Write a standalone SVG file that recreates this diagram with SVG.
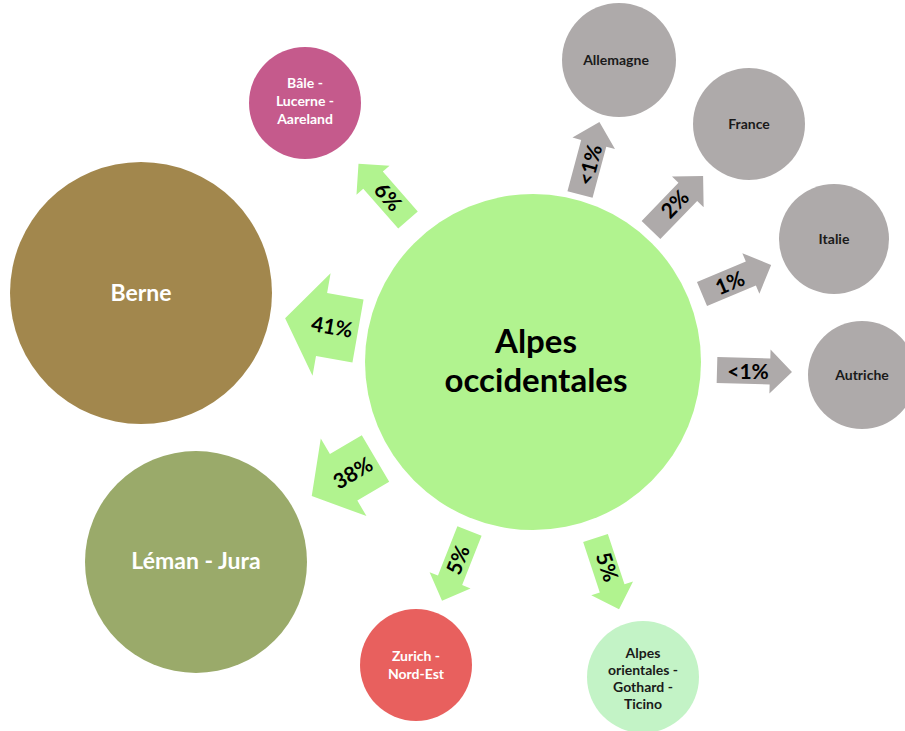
<svg xmlns="http://www.w3.org/2000/svg" width="905" height="731" viewBox="0 0 905 731">
  <style>
    text { font-family: Lato, "Open Sans", "Liberation Sans", sans-serif; font-weight: bold; text-anchor: middle; }
    .g-arrow { fill: #b1f38f; }
    .s-arrow { fill: #aeaaaa; }
    .pct { font-size: 21px; fill: #000; }
    .small-dark { font-size: 14px; fill: #1a1a1a; }
    .small-light { font-size: 14px; fill: #ffffff; }
    .big-light { font-size: 23px; fill: #ffffff; }
  </style>
  <defs>
    <!-- narrow arrow, tail at origin, pointing along +x -->
    <polygon id="thin" points="0,-13 53,-13 53,-22 75,0 53,22 53,13 0,13"/>
  </defs>
  <rect width="905" height="731" fill="#ffffff"/>

  <g id="connectors">
    <use href="#thin" class="g-arrow" transform="translate(408,220) rotate(-131.3)"/>
    <polygon class="g-arrow" points="0,-32 37,-32 37,-52 74,0 37,52 37,32 0,32" transform="translate(358,331) rotate(190)"/>
    <polygon class="g-arrow" points="0,-27 37,-27 37,-45 74,0 37,45 37,27 0,27" transform="translate(375.5,458.5) rotate(149.5)"/>
    <use href="#thin" class="g-arrow" transform="translate(469.5,531) rotate(111.5)"/>
    <use href="#thin" class="g-arrow" transform="translate(595.5,538) rotate(71.7)"/>
    <use href="#thin" class="s-arrow" transform="translate(580,194.5) rotate(-75)"/>
    <use href="#thin" class="s-arrow" transform="translate(651,230) rotate(-46)"/>
    <use href="#thin" class="s-arrow" transform="translate(702,294) rotate(-22.8)"/>
    <use href="#thin" class="s-arrow" transform="translate(717,370) rotate(1.5)"/>

    <text class="pct" transform="translate(388,197) rotate(48.7)" dy="0.35em">6%</text>
    <text class="pct" transform="translate(332,327) rotate(10)" dy="0.35em">41%</text>
    <text class="pct" transform="translate(353,473) rotate(-30.5)" dy="0.35em">38%</text>
    <text class="pct" transform="translate(458,560) rotate(-68.5)" dy="0.35em">5%</text>
    <text class="pct" transform="translate(607,567) rotate(71.7)" dy="0.35em">5%</text>
    <text class="pct" transform="translate(590,165) rotate(-75)" dy="0.35em">&lt;1%</text>
    <text class="pct" transform="translate(675,204) rotate(-46)" dy="0.35em">2%</text>
    <text class="pct" transform="translate(730,283) rotate(-22.8)" dy="0.35em">1%</text>
    <text class="pct" transform="translate(748,372)" dy="0.35em">&lt;1%</text>
  </g>

  <g id="alpes-occidentales">
    <circle cx="533" cy="362" r="168" fill="#b1f38f"/>
    <text x="536" y="353" font-size="33" fill="#000">Alpes</text>
    <text x="536" y="392" font-size="33" fill="#000">occidentales</text>
  </g>

  <g id="berne">
    <circle cx="141" cy="293" r="131" fill="#a2874d"/>
    <text class="big-light" x="141" y="301">Berne</text>
  </g>

  <g id="leman-jura">
    <circle cx="196" cy="562" r="111" fill="#9aaa6a"/>
    <text class="big-light" x="196" y="569">Léman - Jura</text>
  </g>

  <g id="bale-lucerne-aareland">
    <circle cx="305" cy="103" r="56" fill="#c55a8c"/>
    <text class="small-light" x="305" y="88">Bâle -</text>
    <text class="small-light" x="305" y="106">Lucerne -</text>
    <text class="small-light" x="305" y="124">Aareland</text>
  </g>

  <g id="zurich-nord-est">
    <circle cx="416" cy="665" r="56" fill="#e8605e"/>
    <text class="small-light" x="416" y="661">Zurich -</text>
    <text class="small-light" x="416" y="679">Nord-Est</text>
  </g>

  <g id="alpes-orientales">
    <circle cx="643" cy="677" r="56" fill="#c3f3c6"/>
    <text class="small-dark" x="643" y="658">Alpes</text>
    <text class="small-dark" x="643" y="675">orientales -</text>
    <text class="small-dark" x="643" y="692">Gothard -</text>
    <text class="small-dark" x="643" y="709">Ticino</text>
  </g>

  <g id="allemagne">
    <circle cx="619" cy="60" r="57" fill="#aeaaaa"/>
    <text class="small-dark" x="616" y="65">Allemagne</text>
  </g>

  <g id="france">
    <circle cx="749" cy="124" r="56" fill="#aeaaaa"/>
    <text class="small-dark" x="749" y="129">France</text>
  </g>

  <g id="italie">
    <circle cx="834" cy="239" r="55" fill="#aeaaaa"/>
    <text class="small-dark" x="834" y="244">Italie</text>
  </g>

  <g id="autriche">
    <circle cx="862" cy="375" r="54" fill="#aeaaaa"/>
    <text class="small-dark" x="862" y="380">Autriche</text>
  </g>
</svg>
